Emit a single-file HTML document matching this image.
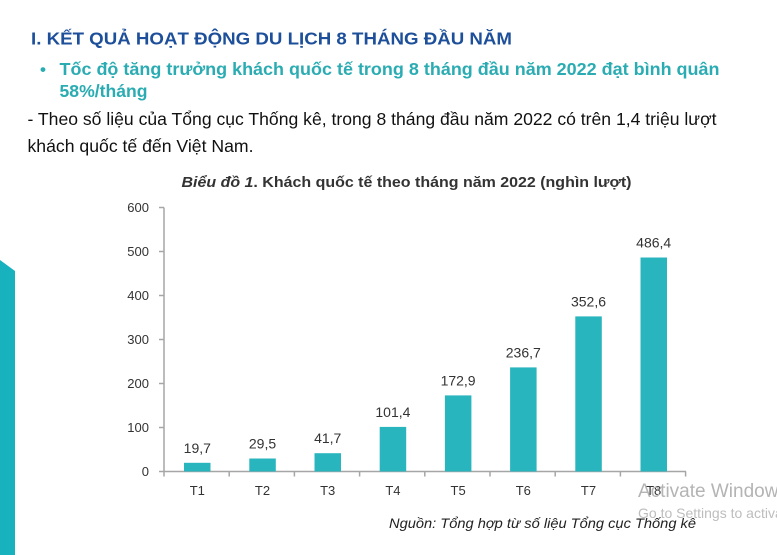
<!DOCTYPE html>
<html>
<head>
<meta charset="utf-8">
<style>
html,body{margin:0;padding:0;background:#fff;}
svg{display:block;}
text{font-family:"Liberation Sans","DejaVu Sans",sans-serif;}
</style>
</head>
<body>
<svg width="777" height="555" viewBox="0 0 777 555" xmlns="http://www.w3.org/2000/svg">
<rect width="777" height="555" fill="#fff"/>
<!-- left decorative band -->
<polygon points="0,260 15,271 15,555 0,555" fill="#17b2be"/>

<!-- heading -->
<text x="31" y="44.5" font-size="17.5" font-weight="bold" fill="#1d4f9a" textLength="481" lengthAdjust="spacingAndGlyphs">I. KẾT QUẢ HOẠT ĐỘNG DU LỊCH 8 THÁNG ĐẦU NĂM</text>
<text x="40" y="75" font-size="17" font-weight="bold" fill="#2aacb2">•</text>
<text x="59.5" y="75" font-size="17.5" font-weight="bold" fill="#2aacb2" textLength="660" lengthAdjust="spacingAndGlyphs">Tốc độ tăng trưởng khách quốc tế trong 8 tháng đầu năm 2022 đạt bình quân</text>
<text x="59.5" y="97" font-size="17.5" font-weight="bold" fill="#2aacb2" textLength="88" lengthAdjust="spacingAndGlyphs">58%/tháng</text>
<text x="27.5" y="125" font-size="17.5" fill="#111" textLength="689" lengthAdjust="spacingAndGlyphs">- Theo số liệu của Tổng cục Thống kê, trong 8 tháng đầu năm 2022 có trên 1,4 triệu lượt</text>
<text x="27.5" y="152" font-size="17.5" fill="#111" textLength="226" lengthAdjust="spacingAndGlyphs">khách quốc tế đến Việt Nam.</text>

<!-- chart title -->
<text x="181.5" y="187" font-size="14.5" font-weight="bold" fill="#333" textLength="450" lengthAdjust="spacingAndGlyphs"><tspan font-style="italic">Biểu đồ 1</tspan>. Khách quốc tế theo tháng năm 2022 (nghìn lượt)</text>

<!-- axes -->
<g stroke="#a6a6a6" stroke-width="1.5" fill="none">
<line x1="164" y1="207.5" x2="164" y2="471.5"/>
<line x1="164" y1="471.5" x2="686" y2="471.5"/>
<line x1="159" y1="207.5" x2="164" y2="207.5"/>
<line x1="159" y1="251.5" x2="164" y2="251.5"/>
<line x1="159" y1="295.5" x2="164" y2="295.5"/>
<line x1="159" y1="339.5" x2="164" y2="339.5"/>
<line x1="159" y1="383.5" x2="164" y2="383.5"/>
<line x1="159" y1="427.5" x2="164" y2="427.5"/>
<line x1="159" y1="471.5" x2="164" y2="471.5"/>
<line x1="164" y1="471.5" x2="164" y2="476.5"/>
<line x1="229.2" y1="471.5" x2="229.2" y2="476.5"/>
<line x1="294.4" y1="471.5" x2="294.4" y2="476.5"/>
<line x1="359.6" y1="471.5" x2="359.6" y2="476.5"/>
<line x1="424.8" y1="471.5" x2="424.8" y2="476.5"/>
<line x1="490" y1="471.5" x2="490" y2="476.5"/>
<line x1="555.2" y1="471.5" x2="555.2" y2="476.5"/>
<line x1="620.4" y1="471.5" x2="620.4" y2="476.5"/>
<line x1="685.6" y1="471.5" x2="685.6" y2="476.5"/>
</g>

<!-- y labels -->
<g font-size="13" fill="#333" text-anchor="end">
<text x="149" y="212">600</text>
<text x="149" y="256">500</text>
<text x="149" y="300">400</text>
<text x="149" y="344">300</text>
<text x="149" y="388">200</text>
<text x="149" y="432">100</text>
<text x="149" y="476">0</text>
</g>

<!-- bars -->
<g fill="#29b5be">
<rect x="184" y="462.8" width="26.5" height="8.7"/>
<rect x="249.3" y="458.5" width="26.5" height="13"/>
<rect x="314.5" y="453.2" width="26.5" height="18.3"/>
<rect x="379.7" y="426.9" width="26.5" height="44.6"/>
<rect x="444.9" y="395.4" width="26.5" height="76.1"/>
<rect x="510.1" y="367.4" width="26.5" height="104.1"/>
<rect x="575.3" y="316.4" width="26.5" height="155.1"/>
<rect x="640.5" y="257.5" width="26.5" height="214"/>
</g>

<!-- value labels -->
<g font-size="14" fill="#333" text-anchor="middle">
<text x="197.3" y="453">19,7</text>
<text x="262.5" y="448.5">29,5</text>
<text x="327.7" y="443.2">41,7</text>
<text x="392.9" y="417">101,4</text>
<text x="458.1" y="385.4">172,9</text>
<text x="523.3" y="357.4">236,7</text>
<text x="588.5" y="306.4">352,6</text>
<text x="653.7" y="247.7">486,4</text>
</g>

<!-- x labels -->
<g font-size="13" fill="#333" text-anchor="middle">
<text x="197.3" y="495">T1</text>
<text x="262.5" y="495">T2</text>
<text x="327.7" y="495">T3</text>
<text x="392.9" y="495">T4</text>
<text x="458.1" y="495">T5</text>
<text x="523.3" y="495">T6</text>
<text x="588.5" y="495">T7</text>
<text x="653.7" y="495">T8</text>
</g>

<!-- source -->
<text x="389" y="528" font-size="14" font-style="italic" fill="#222" textLength="307" lengthAdjust="spacingAndGlyphs">Nguồn: Tổng hợp từ số liệu Tổng cục Thống kê</text>

<!-- watermark -->
<text x="638" y="497" font-size="19" fill="#b4b4b4">Activate Windows</text>
<text x="638" y="518" font-size="14" fill="#bdbdbd">Go to Settings to activate Windows.</text>
</svg>
</body>
</html>
